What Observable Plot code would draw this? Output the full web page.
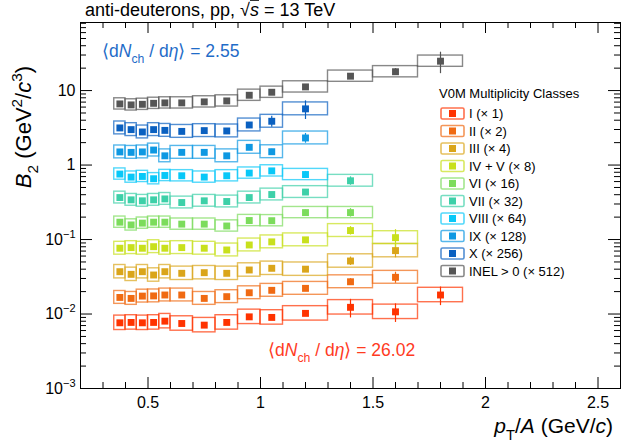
<!DOCTYPE html>
<html><head><meta charset="utf-8">
<script src="https://cdn.jsdelivr.net/npm/d3@7"></script>
<script src="https://cdn.jsdelivr.net/npm/@observablehq/plot@0.6"></script>
<style>body{margin:0;background:#fff}</style>
</head><body><div id="chart"></div>
<script>
// ---- data ----
const binEdges = [0.35,0.4,0.45,0.5,0.55,0.6,0.7,0.8,0.9,1.0,1.1,1.3,1.5,1.7,1.9];
const ptCenters = [0.375,0.425,0.475,0.525,0.575,0.65,0.75,0.85,0.95,1.05,1.2,1.4,1.6,1.8];
const classNames = ["I","II","III","IV + V","VI","VII","VIII","IX","X","INEL > 0"];
const scaleFactors = [1,2,4,8,16,32,64,128,256,512];
const colors = ["#ff3300","#f06a12","#daa51a","#c8e01c","#7cdc5c","#3dd0a8","#08c8f8","#0e98e2","#0a60c0","#555555"];
// B2 values as drawn (already multiplied by the class scale factor)
const b2_I    = [0.00762,0.00771,0.00762,0.00771,0.00802,0.00746,0.00709,0.00771,0.00916,0.0090,0.0102,0.0123,0.0107,0.0180];
const b2_II   = [0.0167,0.0162,0.0174,0.0175,0.0180,0.0180,0.0162,0.0171,0.0193,0.0208,0.0221,0.0271,0.0311];
const b2_III  = [0.0370,0.0341,0.0370,0.0334,0.0370,0.0352,0.0359,0.0352,0.0390,0.0411,0.0400,0.0515,0.071];
const b2_IVV  = [0.0764,0.0779,0.0764,0.0802,0.0764,0.0779,0.0764,0.0724,0.0845,0.093,0.099,0.132,0.106];
const b2_VI   = [0.171,0.157,0.166,0.171,0.171,0.161,0.161,0.152,0.180,0.179,0.230,0.230];
const b2_VII  = [0.366,0.341,0.331,0.341,0.351,0.314,0.331,0.324,0.366,0.402,0.434,0.615];
const b2_VIII = [0.757,0.689,0.703,0.655,0.724,0.718,0.689,0.718,0.780,0.835,0.746];
const b2_IX   = [1.50,1.48,1.50,1.59,1.33,1.48,1.48,1.33,1.73,1.51,2.31];
const b2_X    = [3.15,2.99,2.78,2.99,2.92,2.83,2.90,2.87,3.45,3.87,5.68];
const b2_INEL = [6.62,6.42,6.54,6.74,6.83,6.83,7.05,7.26,8.65,9.49,11.2,15.6,17.9,24.8];
// relative statistical errors per point
const stat_I    = [.02,.02,.02,.02,.02,.02,.02,.02,.03,.05,.08,.28,.28,.28];
const stat_II   = [.02,.02,.02,.02,.02,.02,.02,.02,.03,.04,.06,.10,.17];
const stat_III  = [.02,.02,.02,.02,.02,.02,.02,.02,.03,.04,.06,.13,.20];
const stat_IVV  = [.02,.02,.02,.02,.02,.02,.02,.02,.03,.04,.06,.13,.28];
const stat_VI   = [.02,.02,.02,.02,.02,.02,.02,.02,.03,.05,.08,.13];
const stat_VII  = [.02,.02,.02,.02,.02,.02,.02,.02,.03,.05,.08,.13];
const stat_VIII = [.02,.02,.02,.02,.02,.02,.02,.03,.04,.06,.10];
const stat_IX   = [.02,.02,.02,.02,.02,.02,.03,.03,.05,.08,.15];
const stat_X    = [.03,.03,.03,.03,.03,.03,.04,.05,.07,.17,.28];
const stat_INEL = [.01,.01,.01,.01,.01,.01,.01,.01,.02,.03,.05,.08,.10,.32];
// relative systematic uncertainty (box half-height) per class
const sysRel = [0.25,0.22,0.23,0.22,0.19,0.20,0.19,0.22,0.22,0.19];
// axis ticks
const xMajor = [0.5,1,1.5,2,2.5];
const xMinor = d3.range(3,26).map(d => d/10).filter(d => !xMajor.includes(d));
const yMajor = [1e-3,1e-2,1e-1,1,10];
const yMinor = [1e-3,1e-2,1e-1,1,10].flatMap(d => d3.range(2,10).map(m => m*d)).filter(v => v < 82);

const series = [b2_I,b2_II,b2_III,b2_IVV,b2_VI,b2_VII,b2_VIII,b2_IX,b2_X,b2_INEL];
const stats = [stat_I,stat_II,stat_III,stat_IVV,stat_VI,stat_VII,stat_VIII,stat_IX,stat_X,stat_INEL];
const rows = [];
series.forEach((vals, k) => vals.forEach((v, i) => rows.push({
  k, col: colors[k], x: ptCenters[i], x1: binEdges[i], x2: binEdges[i+1], y: v,
  y1: v/(1+sysRel[k]), y2: v*(1+sysRel[k]), e1: v*(1-stats[k][i]), e2: v*(1+stats[k][i])
})));

const W = 630, H = 444, mL = 80, mR = 10, mT = 22, mB = 56;
const iW = W - mL - mR, iH = H - mT - mB;
const FONT = "'Liberation Sans', Arial, Helvetica, sans-serif";

const chart = Plot.plot({
  width: W, height: H, marginLeft: mL, marginRight: mR, marginTop: mT, marginBottom: mB,
  style: {fontFamily: FONT, background: "white", color: "black"},
  x: {domain: [0.2, 2.6], axis: null},
  y: {type: "log", domain: [1e-3, 82], axis: null},
  color: {type: "identity"},
  marks: [
    Plot.rect(rows, {x1: "x1", x2: "x2", y1: "y1", y2: "y2", fill: "none", stroke: "col", strokeWidth: 1.4, strokeOpacity: 0.7}),
    Plot.ruleX(rows.filter(d => d.e2/d.y > 1.07), {x: "x", y1: "e1", y2: "e2", stroke: "col", strokeWidth: 1.2}),
    Plot.dot(rows, {x: "x", y: "y", symbol: "square", r: 3.9, fill: "col", stroke: null}),
    Plot.frame({stroke: "black", strokeWidth: 1}),
    // inward ROOT-style ticks
    Plot.ruleX(xMajor, {insetTop: iH - 11, stroke: "black"}),
    Plot.ruleX(xMinor, {insetTop: iH - 6, stroke: "black"}),
    Plot.ruleX(xMajor, {insetBottom: iH - 11, stroke: "black"}),
    Plot.ruleX(xMinor, {insetBottom: iH - 6, stroke: "black"}),
    Plot.ruleY(yMajor, {insetRight: iW - 12, stroke: "black"}),
    Plot.ruleY(yMinor, {insetRight: iW - 6, stroke: "black"}),
    Plot.ruleY(yMajor, {insetLeft: iW - 12, stroke: "black"}),
    Plot.ruleY(yMinor, {insetLeft: iW - 6, stroke: "black"}),
    Plot.axisX(xMajor, {tickSize: 0, tickPadding: 8, fontSize: 16, label: null, tickFormat: d => String(d)}),
    Plot.axisY(yMajor, {tickSize: 0, tickPadding: 5, fontSize: 16, label: null,
      tickFormat: d => d === 1 ? "1" : d === 10 ? "10" : "10^" + Math.round(Math.log10(d))})
  ]
});
document.getElementById("chart").appendChild(chart);

const svg = d3.select(chart);
// superscript exponents on y tick labels
svg.selectAll('g[aria-label="y-axis tick label"] text').each(function() {
  const t = d3.select(this), s = t.text();
  if (s.startsWith("10^")) {
    t.text("10");
    t.append("tspan").attr("dy", -7).attr("font-size", 11).text("\u2212" + s.slice(4));
  }
});

function rich(x, y, parts, size, opts = {}) {
  const t = svg.append("text").attr("x", x).attr("y", y).attr("font-family", FONT)
    .attr("font-size", size).attr("fill", opts.fill || "black")
    .attr("text-anchor", opts.anchor || "start");
  if (opts.transform) t.attr("transform", opts.transform).attr("x", 0).attr("y", 0);
  let shift = 0;
  for (const p of parts) {
    const target = p.sup ? -0.42*size : p.sub ? 0.32*size : 0;
    const ts = t.append("tspan").text(p.t).attr("dy", target - shift);
    shift = target;
    if (p.sup || p.sub) ts.attr("font-size", size*0.7);
    if (p.i) ts.attr("font-style", "italic");
    if (p.over) ts.attr("text-decoration", "overline");
  }
  return t;
}

// title
rich(85, 16, [{t: "anti-deuterons, pp, \u221A"}, {t: "s", i: true, over: true}, {t: " = 13 TeV"}], 18);
// axis titles
rich(0, 0, [{t: "B", i: true}, {t: "2", sub: true}, {t: " (GeV"}, {t: "2", sup: true}, {t: "/"}, {t: "c", i: true}, {t: "3", sup: true}, {t: ")"}], 22,
  {anchor: "middle", transform: "translate(31,127) rotate(-90)"});
rich(613, 433, [{t: "p", i: true}, {t: "T", sub: true}, {t: "/"}, {t: "A", i: true}, {t: " (GeV/"}, {t: "c", i: true}, {t: ")"}], 21, {anchor: "end"});
// annotations
const dndeta = v => [{t: "\u27E8d"}, {t: "N", i: true}, {t: "ch", sub: true}, {t: " / d"}, {t: "\u03B7", i: true}, {t: "\u27E9 = " + v}];
rich(102, 57, dndeta("2.55"), 17.5, {fill: "#1f6cc8"});
rich(268, 356, dndeta("26.02"), 17.5, {fill: "#ff3b1f"});

// legend
const lg = svg.append("g").attr("font-family", FONT).attr("font-size", 13).attr("text-anchor", "start");
lg.append("text").attr("x", 439).attr("y", 98).text("V0M Multiplicity Classes");
classNames.forEach((name, k) => {
  const cy = 113.5 + k*17.5;
  lg.append("rect").attr("x", 441).attr("y", cy - 5.5).attr("width", 23).attr("height", 11).attr("rx", 1.5)
    .attr("fill", "white").attr("stroke", colors[k]).attr("stroke-opacity", 0.7).attr("stroke-width", 1.6);
  lg.append("rect").attr("x", 449).attr("y", cy - 3.5).attr("width", 7).attr("height", 7).attr("fill", colors[k]);
  lg.append("text").attr("x", 469).attr("y", cy + 4.5).text(`${name} (\u00D7 ${scaleFactors[k]})`);
});
</script>
</body></html>
